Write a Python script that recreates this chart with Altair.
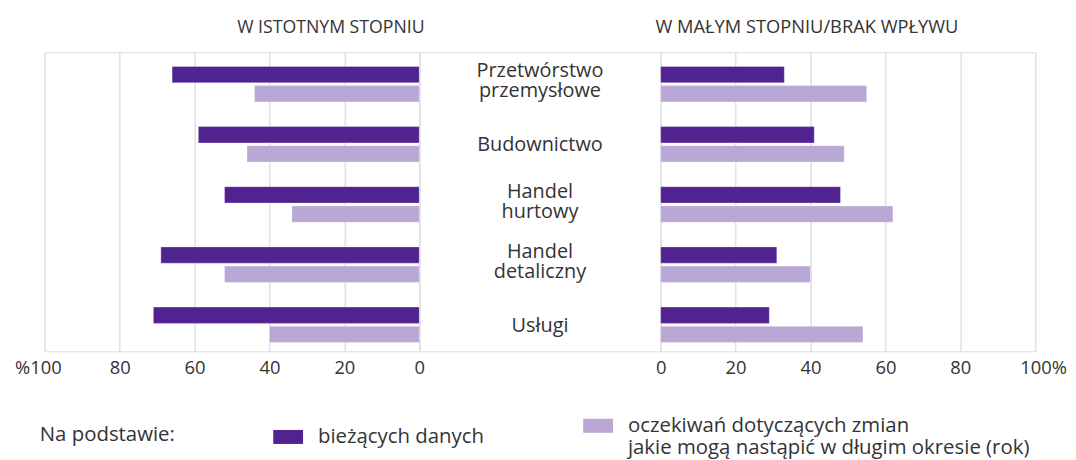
import altair as alt
import pandas as pd

categories = ["Przetwórstwo przemysłowe", "Budownictwo", "Handel hurtowy", "Handel detaliczny", "Usługi"]
category_labels = ["Przetwórstwo\nprzemysłowe", "Budownictwo", "Handel\nhurtowy", "Handel\ndetaliczny", "Usługi"]
series = ["bieżących danych", "oczekiwań dotyczących zmian|jakie mogą nastąpić w długim okresie (rok)"]

# W istotnym stopniu (left panel)
left_current = [66, 59, 52, 69, 71]
left_expect = [44, 46, 34, 52, 40]
# W małym stopniu / brak wpływu (right panel)
right_current = [33, 41, 48, 31, 29]
right_expect = [55, 49, 62, 40, 54]

tick_values = [0, 20, 40, 60, 80, 100]
colors = ["#512391", "#b9a7d5"]

FONT = "Open Sans"
TXT = "#333333"


def long_df(cur, exp):
    rows = []
    for c, a, b in zip(categories, cur, exp):
        rows.append({"category": c, "series": series[0], "value": a})
        rows.append({"category": c, "series": series[1], "value": b})
    return pd.DataFrame(rows)


df_left = long_df(left_current, left_expect)
df_right = long_df(right_current, right_expect)
df_center = pd.DataFrame({"category": categories, "label": category_labels})

y_scale = alt.Scale(paddingInner=0.41, paddingOuter=0.19, align=0.62)
legend = alt.Legend(
    orient="none", legendX=-5, legendY=361, direction="horizontal",
    title="Na podstawie:", titleOrient="left", titleFontSize=20.5, titleFontWeight="normal",
    titleColor=TXT, titleFont=FONT, titlePadding=99,
    labelFontSize=20.5, labelColor=TXT, labelFont=FONT, labelLimit=600, labelOffset=15,
    labelExpr="split(datum.label, '|')",
    symbolType="M-1,-0.47H1V0.47H-1Z", symbolSize=900, symbolStrokeWidth=0,
    columnPadding=99,
)
color = alt.Color("series:N", sort=series, scale=alt.Scale(domain=series, range=colors), legend=legend)


def panel(df, reverse, title, anchor, title_size, pct_offset, pct_expr):
    return alt.Chart(df).mark_bar(stroke="white", strokeWidth=0.6, strokeOpacity=0.5).encode(
        x=alt.X("value:Q",
                scale=alt.Scale(domain=[0, 100], reverse=reverse, nice=False),
                axis=alt.Axis(values=tick_values, title=None, grid=True, ticks=False, domain=False,
                              gridColor="#e2e2e2", gridWidth=1.6, labelFlush=False,
                              labelFontSize=18.5, labelColor=TXT, labelFont=FONT, labelPadding=7,
                              labelExpr=pct_expr,
                              labelOffset={"condition": {"test": "datum.value == 100", "value": pct_offset}, "value": 0})),
        y=alt.Y("category:N", sort=categories, scale=y_scale, axis=None),
        yOffset=alt.YOffset("series:N", sort=series, scale=alt.Scale(paddingInner=0.15)),
        color=color,
    ).properties(
        width=377, height=301,
        title=alt.TitleParams(title, anchor=anchor, fontSize=title_size, fontWeight="normal", color=TXT,
                              font=FONT, offset=16),
    )


left = panel(df_left, True, "W ISTOTNYM STOPNIU", "end", 17.8, -7,
             "datum.value == 100 ? '%100' : datum.label")
right = panel(df_right, False, "W MAŁYM STOPNIU/BRAK WPŁYWU", "start", 18.4, 8,
              "datum.value == 100 ? '100%' : datum.label")

# vertical nudge of the category labels (one- vs two-line labels)
center = alt.Chart(df_center).transform_calculate(
    shift="19 - (length(split(datum.label, '\\n')) - 1) * 14"
).mark_text(
    fontSize=20, font=FONT, color=TXT, lineBreak="\n", lineHeight=20, baseline="middle", align="center"
).encode(
    y=alt.Y("category:N", sort=categories, scale=y_scale, axis=None),
    yOffset=alt.YOffset("shift:Q", scale=None),
    text="label:N",
).properties(width=243, height=301)

chart = alt.hconcat(left, center, right, spacing=0, bounds="flush").properties(
    padding={"left": 5, "top": 8, "right": 0, "bottom": 14}
).configure_view(stroke=None).configure(font=FONT, background="white")

chart.save("out.html", embed_options={"renderer": "svg", "actions": False})
